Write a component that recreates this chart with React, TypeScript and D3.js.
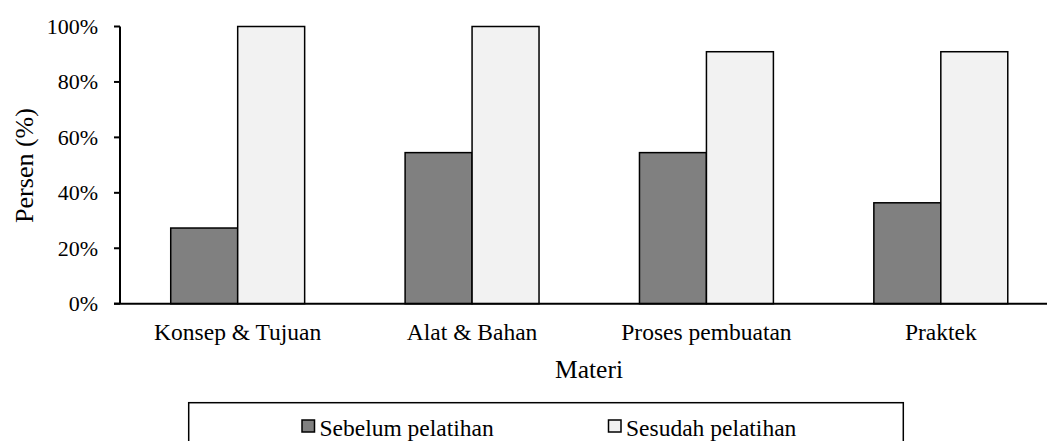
import React from "react";
import * as d3 from "d3";

const categories = ["Konsep & Tujuan", "Alat & Bahan", "Proses pembuatan", "Praktek"];
const seriesNames = ["Sebelum pelatihan", "Sesudah pelatihan"];
const sebelum = [27.3, 54.5, 54.5, 36.4];
const sesudah = [100, 100, 90.9, 90.9];
const yTicks = [0, 20, 40, 60, 80, 100];
const colors = ["#808080", "#f2f2f2"];

const W = 1047;
const H = 441;
const FONT = "'Liberation Serif', 'Times New Roman', serif";

export default function App() {
  const x0 = d3.scaleBand<string>().domain(categories).range([120.5, 1058]).paddingInner(0).paddingOuter(0);
  const bw = x0.bandwidth() / 3.5;
  const y = d3.scaleLinear().domain([0, 100]).range([303.7, 26.5]);
  const series = [sebelum, sesudah];
  const axisX = 120;

  return (
    <svg width={W} height={H} style={{ position: "absolute", left: 0, top: 0, background: "#fff" }} fontFamily={FONT}>
      {/* bars */}
      {series.map((vals, si) =>
        categories.map((c, i) => {
          const bx = (x0(c) as number) + bw * 0.75 + si * bw;
          return (
            <rect
              key={`${si}-${i}`}
              x={bx}
              y={y(vals[i])}
              width={bw}
              height={y(0) - y(vals[i])}
              fill={colors[si]}
              stroke="#000"
              strokeWidth={1.5}
            />
          );
        })
      )}
      {/* y axis */}
      <line x1={axisX} x2={axisX} y1={y(100)} y2={y(0)} stroke="#000" strokeWidth={2} />
      {yTicks.map((t) => (
        <g key={t}>
          <line x1={axisX - 6} x2={axisX} y1={y(t)} y2={y(t)} stroke="#000" strokeWidth={2} />
          <text x={98} y={y(t) + 7.5} textAnchor="end" fontSize={22} fill="#000">
            {t}%
          </text>
        </g>
      ))}
      {/* x axis */}
      <line x1={axisX - 6} x2={W} y1={y(0)} y2={y(0)} stroke="#000" strokeWidth={2} />
      {categories.map((c) => (
        <text key={c} x={(x0(c) as number) + x0.bandwidth() / 2} y={340} textAnchor="middle" fontSize={23.5} fill="#000">
          {c}
        </text>
      ))}
      {/* axis titles */}
      <text x={589} y={378.3} textAnchor="middle" fontSize={25.5} fill="#000">
        Materi
      </text>
      <text transform={`translate(33.3,165.5) rotate(-90)`} textAnchor="middle" fontSize={26} fill="#000">
        Persen (%)
      </text>
      {/* legend */}
      <rect x={188.7} y={402.7} width={903.3 - 188.7} height={60} fill="#fff" stroke="#000" strokeWidth={1.5} />
      {seriesNames.map((n, i) => {
        const lx = i === 0 ? 302 : 608.5;
        return (
          <g key={n}>
            <rect x={lx} y={420} width={12.5} height={12} fill={colors[i]} stroke="#000" strokeWidth={1.5} />
            <text x={lx + 17.5} y={436} fontSize={23.5} fill="#000">
              {n}
            </text>
          </g>
        );
      })}
    </svg>
  );
}
